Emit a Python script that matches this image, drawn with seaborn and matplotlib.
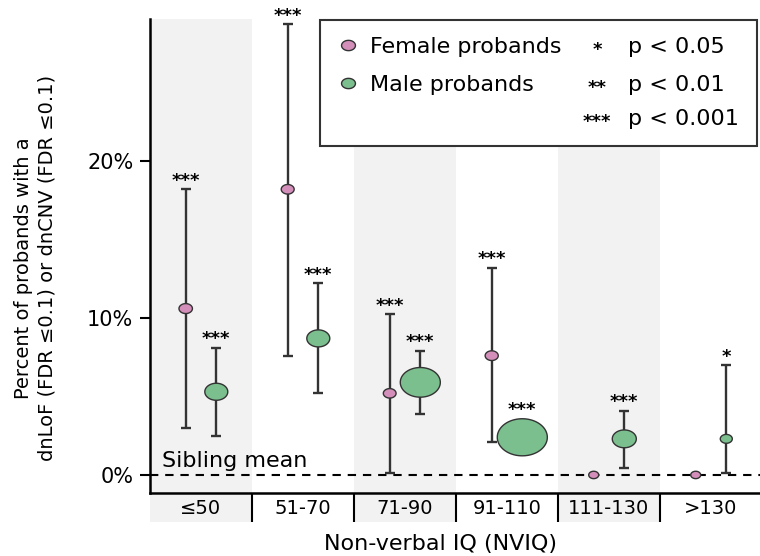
import numpy as np
import pandas as pd
import matplotlib
matplotlib.use("Agg")
import matplotlib.pyplot as plt
from matplotlib.path import Path
from matplotlib.patches import Rectangle
from matplotlib.lines import Line2D
from matplotlib.transforms import blended_transform_factory
import seaborn as sns

# ---- data -------------------------------------------------------------
groups = ["≤50", "51-70", "71-90", "91-110", "111-130", ">130"]

female_pct = [10.6, 18.2, 5.2, 7.6, 0.0, 0.0]
female_lo = [3.0, 7.6, 0.1, 2.1, np.nan, np.nan]
female_hi = [18.2, 28.7, 10.25, 13.2, np.nan, np.nan]
female_n = [40, 37, 36, 38, 22, 22]
female_sig = ["***", "***", "***", "***", "", ""]

male_pct = [5.3, 8.7, 5.9, 2.4, 2.3, 2.3]
male_lo = [2.5, 5.2, 3.9, 1.7, 0.45, 0.1]
male_hi = [8.1, 12.2, 7.9, 3.2, 4.1, 7.0]
male_n = [117, 117, 355, 555, 128, 32]
male_sig = ["***", "***", "***", "***", "***", "*"]

y_ticks = [0, 10, 20]
y_tick_labels = ["0%", "10%", "20%"]
sig_levels = ["*", "**", "***"]
sig_labels = ["p < 0.05", "p < 0.01", "p < 0.001"]

# ---- styling ----------------------------------------------------------
sns.set_style("ticks")
plt.rcParams["font.family"] = ["DejaVu Sans"]
plt.rcParams.update({"text.color": "black", "axes.labelcolor": "black",
                     "xtick.color": "black", "ytick.color": "black",
                     "xtick.labelcolor": "black", "ytick.labelcolor": "black"})

PINK = "#d38fba"
GREEN = "#7bbf8e"
EDGE = "#333333"
SHADE = "#f2f2f2"
AREA_PER_PROBAND = 2.34          # marker area (pt^2) per proband
DODGE = {"Female probands": -0.15, "Male probands": 0.15}
palette = {"Female probands": PINK, "Male probands": GREEN}

theta = np.linspace(0, 2 * np.pi, 120)
ellipse = Path(np.column_stack([1.35 * np.cos(theta), np.sin(theta)]), closed=True)

rows = []
for sex, pct, lo, hi, n, sig in [
    ("Female probands", female_pct, female_lo, female_hi, female_n, female_sig),
    ("Male probands", male_pct, male_lo, male_hi, male_n, male_sig),
]:
    for i, g in enumerate(groups):
        rows.append(dict(group=g, sex=sex, pct=pct[i], lo=lo[i], hi=hi[i],
                         n=n[i], sig=sig[i], x=i + DODGE[sex]))
df = pd.DataFrame(rows)

W, H = 760, 556
fig = plt.figure(figsize=(W / 100, H / 100), dpi=100)
ax = fig.add_axes([150 / W, 1 - 493 / H, 612 / W, 474 / H])
ax.set_facecolor("white")

ax.set_xlim(-0.5, len(groups) - 0.5)
ax.set_ylim(-1.15, 29.05)

# alternating column shading, in the plot and behind the tick labels
band = blended_transform_factory(ax.transData, ax.transAxes)
for i in range(0, len(groups), 2):
    ax.axvspan(i - 0.5, i + 0.5, color=SHADE, zorder=0, lw=0)
    ax.add_patch(Rectangle((i - 0.5, -0.061), 1.0, 0.057, transform=band,
                           facecolor=SHADE, edgecolor="none", clip_on=False, zorder=0))

# sibling reference line
ax.axhline(0, color="black", lw=1.5, ls=(0, (4, 3.3)), zorder=2)
ax.text(12 / 612, 0.5, "Sibling mean", fontsize=16, va="baseline", ha="left",
        transform=blended_transform_factory(ax.transAxes, ax.transData), zorder=2)

# confidence intervals
ci = df.dropna(subset=["lo", "hi"])
ax.errorbar(ci["x"], ci["pct"], yerr=[ci["pct"] - ci["lo"], ci["hi"] - ci["pct"]],
            fmt="none", ecolor=EDGE, elinewidth=1.7, capsize=3.3, capthick=1.7,
            zorder=3, clip_on=False)

# points sized by number of probands
sns.scatterplot(data=df, x="x", y="pct", hue="sex", palette=palette,
                size="n", sizes=(0, AREA_PER_PROBAND * 600), size_norm=(0, 600),
                marker=ellipse, edgecolor=EDGE, linewidth=1.0, legend=False,
                ax=ax, zorder=4, clip_on=False)

# significance stars above each interval / marker
px_to_pt = 72 / fig.dpi
for _, r in df.iterrows():
    if not r["sig"]:
        continue
    top = r["hi"] if not np.isnan(r["hi"]) else r["pct"]
    top_px = ax.transData.transform((r["x"], top))[1]
    half_h = np.sqrt(AREA_PER_PROBAND * r["n"]) / px_to_pt / 1.35 / 2
    mark_px = ax.transData.transform((r["x"], r["pct"]))[1] + half_h
    anchor = ax.transData.inverted().transform((0, max(top_px, mark_px)))[1]
    ax.annotate(r["sig"], xy=(r["x"], anchor), xytext=(0, 2.5),
                textcoords="offset points", ha="center", va="baseline",
                fontsize=13, fontweight="bold", annotation_clip=False, zorder=5)

# axes, ticks, labels
ax.set_xticks(range(len(groups)))
ax.set_xticklabels(groups)
ax.set_xticks(np.arange(0.5, len(groups) - 1, 1.0), minor=True)
ax.tick_params(axis="x", which="major", length=0, pad=4, labelsize=14)
ax.tick_params(axis="x", which="minor", length=21, width=1.5, color="black",
               direction="out")
ax.set_yticks(y_ticks)
ax.set_yticklabels(y_tick_labels)
ax.tick_params(axis="y", length=7, width=1.5, pad=5, labelsize=15, color="black")

for side in ["top", "right"]:
    ax.spines[side].set_visible(False)
for side in ["left", "bottom"]:
    ax.spines[side].set_linewidth(1.8)
    ax.spines[side].set_color("black")

ax.set_xlabel("Non-verbal IQ (NVIQ)", fontsize=16)
ax.xaxis.set_label_coords(0.475, -0.086)
ax.set_ylabel("Percent of probands with a\ndnLoF (FDR ≤0.1) or dnCNV (FDR ≤0.1)",
              fontsize=14, linespacing=1.35)
ax.yaxis.set_label_coords(-0.152, 0.475)

# key box
def fxy(px, py):
    return px / W, 1 - py / H

fig.add_artist(Rectangle(fxy(320, 146), 437 / W, 126 / H, transform=fig.transFigure,
                         facecolor="white", edgecolor=EDGE, lw=1.5, zorder=10))
for (label, color), ry in zip([("Female probands", PINK), ("Male probands", GREEN)], [45, 83]):
    fig.add_artist(Line2D([348 / W], [1 - ry / H], transform=fig.transFigure,
                          marker=ellipse, markersize=10, markerfacecolor=color,
                          markeredgecolor=EDGE, markeredgewidth=1.0, ls="none", zorder=11))
    fig.text(*fxy(370, ry + 8), label, fontsize=16, va="baseline", ha="left", zorder=11)
for stars, plabel, ry in zip(sig_levels, sig_labels, [45, 83, 117]):
    fig.text(*fxy(597, ry + 10), stars, fontsize=13, fontweight="bold",
             va="baseline", ha="center", zorder=11)
    fig.text(*fxy(628, ry + 8), plabel, fontsize=16, va="baseline", ha="left", zorder=11)

fig.savefig("out.png", dpi=100)
